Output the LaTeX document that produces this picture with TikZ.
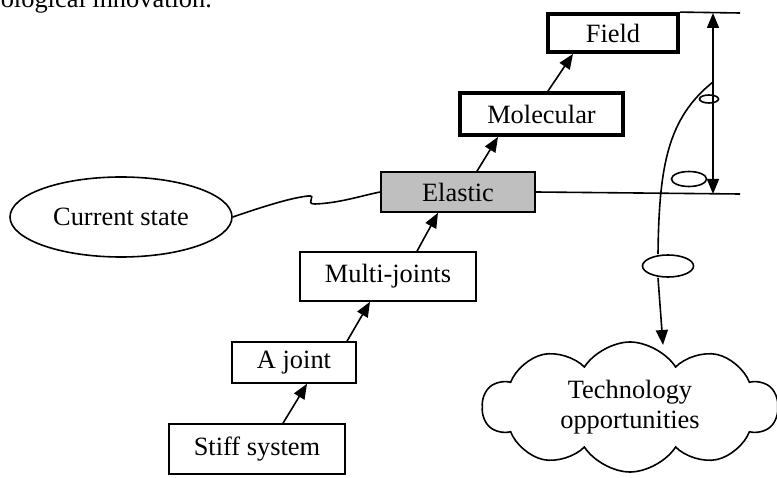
\documentclass[tikz,border=0pt]{standalone}
\usepackage{fontspec}
\setmainfont{Liberation Serif}
\usetikzlibrary{calc}
\usetikzlibrary{arrows.meta}
\usetikzlibrary{shapes.geometric}
\usetikzlibrary{shapes.symbols}
\tikzstyle{levelnode} = [draw, rectangle, line width=1.6pt, inner sep=0pt, font=\fontsize{26.4}{30}\selectfont]
\tikzstyle{strongnode} = [levelnode, line width=3.8pt]
\tikzstyle{marknode} = [draw, ellipse, line width=1.6pt, inner sep=0pt]
\tikzstyle{step arrow} = [line width=1.6pt, -{Triangle[length=15pt,width=12pt]}]
\begin{document}
\begin{tikzpicture}[x=1pt, y=1pt, line width=1.6pt]
  \useasboundingbox (0,0) rectangle (777,477);

  \node[anchor=base west, inner sep=0pt, font=\fontsize{26.4}{30}\selectfont] (caption) at (0,469) {ological innovation.};

  \node[levelnode, minimum width=176pt, minimum height=50pt] (stiff) at (257,28) {Stiff system};
  \node[levelnode, minimum width=124pt, minimum height=41pt] (ajoint) at (294,114.5) {A joint};
  \node[levelnode, minimum width=176pt, minimum height=49pt] (multi) at (388,200.5) {Multi-joints};
  \node[levelnode, fill=black!25, minimum width=154pt, minimum height=40pt] (elastic) at (458,285) {Elastic};
  \node[strongnode, minimum width=163pt, minimum height=42pt] (molecular) at (541.5,363) {Molecular};
  \node[strongnode, minimum width=130pt, minimum height=38pt] (field) at (613,444) {Field};

  \node[levelnode, ellipse, minimum width=222pt, minimum height=80pt] (current) at (121,260) {Current state};
  \node[levelnode, cloud, cloud puffs=10, cloud puff arc=115, aspect=2.3,
        minimum width=295pt, minimum height=130pt, align=center] (chance) at (630,70)
        {Technology\\opportunities};

  % step arrows
  \draw[step arrow] ([xshift=26pt]stiff.north) -- ([xshift=13pt]ajoint.south);
  \draw[step arrow] ([xshift=53pt]ajoint.north) -- ([xshift=-18pt]multi.south);
  \draw[step arrow] ([xshift=29pt]multi.north) -- ([xshift=-20pt]elastic.south);
  \draw[step arrow] ([xshift=19pt]elastic.north) -- ([xshift=-43.5pt]molecular.south);
  \draw[step arrow] ([xshift=6.5pt]molecular.north) -- ([xshift=-40pt]field.south);

  % wavy link
  \draw (current.east) .. controls (262,270) and (290,279) .. (308,281)
        .. controls (318,282) and (304,273) .. (315,273)
        .. controls (340,274) and (360,281) .. (elastic.west);

  % limit lines and span
  \coordinate (topend) at (740,464);
  \coordinate (midend) at (740,283);
  \coordinate (spantop) at (713,464);
  \coordinate (spanbot) at (713,283);
  \draw (field.north east) -- (topend);
  \draw (elastic.east) -- (midend);
  \draw[{Triangle[length=15pt,width=12pt]}-{Triangle[length=15pt,width=12pt]}] (spantop) -- (spanbot);

  % path to opportunities
  \node[marknode, minimum width=19pt, minimum height=8pt] (m1) at (709,378) {};
  \node[marknode, minimum width=35pt, minimum height=15pt] (m2) at (689,298) {};
  \node[marknode, minimum width=51pt, minimum height=22pt] (m3) at (668,211) {};
  \coordinate (start) at (713,395);
  \coordinate (entry) at (663,132);
  \draw (start) .. controls (668,359) and (659,312) .. ([xshift=-10pt]m3.north);
  \draw[step arrow] ([xshift=-10pt]m3.south) -- (entry);
\end{tikzpicture}
\end{document}
